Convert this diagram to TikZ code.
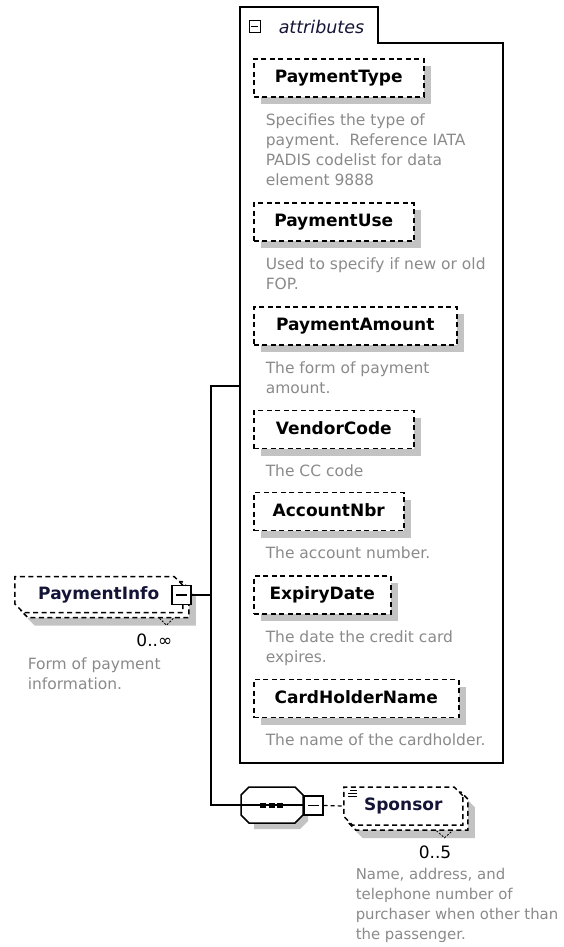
\documentclass[tikz,border=0pt]{standalone}
\usepackage{fontspec}
\setmainfont{DejaVu Sans}
\usetikzlibrary{shapes.misc,shadows}
\definecolor{descgray}{RGB}{138,138,138}
\definecolor{shadowgray}{RGB}{195,195,195}
\definecolor{namecol}{RGB}{20,20,55}

\begin{document}
\begin{tikzpicture}[x=1pt,y=-1pt,line width=1.5pt,
  attr/.style={draw,dash pattern=on 5pt off 3.5pt,fill=white,minimum height=38pt,inner xsep=2pt,anchor=west,
    font=\fontsize{17}{20}\selectfont\bfseries,text height=12.5pt,text depth=3.5pt,
    drop shadow={shadow xshift=7pt,shadow yshift=-7pt,fill=shadowgray,opacity=1}},
  elem/.style={chamfered rectangle,chamfered rectangle corners={north east,south west},chamfered rectangle xsep=5pt,
    draw,dash pattern=on 5pt off 3.5pt,fill=white,inner xsep=2pt,anchor=west,text=namecol,
    font=\fontsize{17}{20}\selectfont\bfseries,text height=12.5pt,text depth=3.5pt},
  elemback/.style={elem,drop shadow={shadow xshift=7pt,shadow yshift=-8pt,fill=shadowgray,opacity=1}},
  desc/.style={anchor=base west,align=left,inner sep=0pt,text=descgray,font=\fontsize{15.5}{20}\selectfont},
  occurs/.style={anchor=base east,inner sep=0pt,font=\fontsize{17}{20}\selectfont},
  minusbtn/.style={draw,fill=white,line width=1.2pt,minimum width=19pt,minimum height=19pt,inner sep=0pt,
    path picture={\draw[line width=1.2pt] ([xshift=4pt]path picture bounding box.west) -- ([xshift=-4pt]path picture bounding box.east);}},
  seqbox/.style={inner sep=0pt,minimum width=62pt,minimum height=36pt},
  seqdot/.style={fill,inner sep=0pt,minimum width=6pt,minimum height=5pt},
  notch/.style={line width=0.8pt,dash pattern=on 2pt off 1.5pt}]
\useasboundingbox (0,0) rectangle (563,947);

\draw (240,43) -- (240,7) -- (378,7) -- (378,43) -- (503,43) -- (503,763) -- (240,763) -- cycle;
\coordinate (attrin) at (240,386);
\node[minusbtn,line width=1pt,minimum width=11pt,minimum height=12pt,path picture={\draw[line width=1pt] ([xshift=2pt]path picture bounding box.west) -- ([xshift=-2pt]path picture bounding box.east);}] (attrbtn) at (254.5,27) {};
\node[anchor=west,inner sep=0pt,text=namecol,font=\fontsize{17.5}{20}\selectfont\itshape] (attrhead) at (278,27) {attributes};

\node[attr,minimum width=170pt] (ptype) at (253,78) {PaymentType};\node[desc] (ptypedoc) at (265,185) {Specifies the type of\\payment.\ \ Reference IATA\\PADIS codelist for data\\element 9888};
\node[attr,minimum width=160pt] (puse) at (253,222) {PaymentUse};\node[desc] (pusedoc) at (265,289) {Used to specify if new or old\\FOP.};
\node[attr,minimum width=203pt] (pamount) at (253,326) {PaymentAmount};\node[desc] (pamountdoc) at (265,393) {The form of payment\\amount.};
\node[attr,minimum width=160pt] (vcode) at (253,429.5) {VendorCode};\node[desc] (vcodedoc) at (265,476.5) {The CC code};
\node[attr,minimum width=150pt] (accnbr) at (253,511.5) {AccountNbr};\node[desc] (accnbrdoc) at (265,558.5) {The account number.};
\node[attr,minimum width=137pt] (expdate) at (253,595) {ExpiryDate};\node[desc] (expdatedoc) at (265,662) {The date the credit card\\expires.};
\node[attr,minimum width=205pt] (chname) at (253,698.5) {CardHolderName};\node[desc] (chnamedoc) at (265,745.5) {The name of the cardholder.};

\node[elemback,minimum width=168pt,minimum height=36pt] (pib) at (20,599.5) {};
\node[elem,minimum width=168pt,minimum height=36pt] (pif) at (14,594.5) {PaymentInfo};
\draw[notch] ([xshift=-30pt]pib.south east) -- ++(7,7) -- ++(7,-7);
\node[minusbtn] (pibtn) at (181.5,595) {};
\node[occurs] (pimult) at (173,646) {0..∞};
\node[desc] (pidoc) at (27,689.5) {Form of payment\\information.};

\node[seqbox] (seq) at (272,805) {};
\coordinate (fork) at (211,595);
\draw (pibtn.east) -- (fork);
\draw (fork) |- (attrin);
\draw (fork) |- (seq.west);

\fill[shadowgray,shift={(seq.center)}] (-18,-12) -- (28,-12) -- (36,-4) -- (36,16) -- (28,24) -- (-18,24) -- cycle;
\draw[fill=white,shift={(seq.center)}] (-23,-18) -- (23,-18) -- (31,-10) -- (31,10) -- (23,18) -- (-23,18) -- (-31,10) -- (-31,-10) -- cycle;
\draw (seq.west) -- (seq.east);
\node[seqdot] (dot1) at (263,805) {};\node[seqdot] (dot2) at (271.5,805) {};\node[seqdot] (dot3) at (280,805) {};
\node[minusbtn] (seqbtn) at (313.5,805.5) {};

\node[elemback,minimum width=119pt,minimum height=38pt] (spb) at (348,811) {};
\node[elem,minimum width=119pt,minimum height=38pt] (spf) at (343,806) {Sponsor};
\draw[notch] ([xshift=-32pt]spb.south east) -- ++(8,7) -- ++(8,-7);
\draw[line width=1pt] ([shift={(7pt,-4pt)}]spf.north west) -- ++(7,0) ([shift={(5pt,-7pt)}]spf.north west) -- ++(9,0) ([shift={(5pt,-10pt)}]spf.north west) -- ++(9,0);
\draw[line width=1.2pt,dash pattern=on 4pt off 3pt] (seqbtn.east) -- (spf.west);
\node[occurs] (spmult) at (452,858) {0..5};
\node[desc,font=\fontsize{14.9}{20}\selectfont] (spdoc) at (355,939.5) {Name, address, and\\telephone number of\\purchaser when other than\\the passenger.};
\end{tikzpicture}
\end{document}
